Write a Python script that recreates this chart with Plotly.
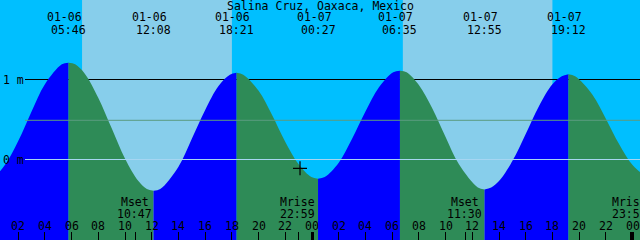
import plotly.graph_objects as go

TITLE = "Salina Cruz, Oaxaca, Mexico"

# hours since 01-06 00:00, tide height in metres
tide_t = [-0.45, 0.05, 1, 2, 3, 4, 5.267, 5.767,
          6.267, 7, 8, 9, 10, 11, 11.633, 12.133,
          12.633, 14, 15, 16, 17, 17.85, 18.35,
          18.85, 20, 21, 22, 23, 23.95, 24.45,
          24.95, 26, 27, 28, 29, 30.083, 30.583,
          31.083, 32, 33, 34, 35, 36.417, 36.917,
          37.417, 38, 39, 40, 41, 42, 42.7, 43.2,
          43.7, 45, 46, 47, 48, 48.78, 49.28]
tide_h = [-0.26, -0.24, -0.07, 0.23, 0.60, 0.94, 1.19, 1.21,
          1.19, 1.07, 0.77, 0.39, 0.01, -0.27, -0.37, -0.39,
          -0.37, -0.09, 0.26, 0.62, 0.92, 1.06, 1.085,
          1.06, 0.86, 0.56, 0.22, -0.06, -0.22, -0.24,
          -0.22, -0.04, 0.26, 0.60, 0.90, 1.09, 1.11,
          1.09, 0.93, 0.64, 0.28, -0.06, -0.35, -0.375,
          -0.35, -0.27, -0.02, 0.32, 0.67, 0.94, 1.04, 1.065,
          1.04, 0.81, 0.51, 0.19, -0.07, -0.18, -0.20]

# high / low tide events
event_t = [-0.45, 5.767, 12.133, 18.35, 24.45, 30.583, 36.917, 43.2, 49.28]
event_date = ["01-05", "01-06", "01-06", "01-06", "01-07", "01-07", "01-07", "01-07", "01-08"]
event_time = ["23:33", "05:46", "12:08", "18:21", "00:27", "06:35", "12:55", "19:12", "01:17"]

# daylight periods
sunrise_t = [6.78, 30.8]
sunset_t = [18.0, 42.0]

# moon events
moon_t = [10.783, 22.983, 35.5, 47.85]
moon_kind = ["Mset", "Mrise", "Mset", "Mrise"]
moon_time = ["10:47", "22:59", "11:30", "23:51"]

# hour labels along the bottom
hour_t = [2, 4, 6, 8, 10, 12, 14, 16, 18, 20, 22, 24, 26, 28, 30, 32, 34, 36, 38, 40, 42, 44, 46, 48]
hour_lbl = ["02", "04", "06", "08", "10", "12", "14", "16", "18", "20", "22", "00",
            "02", "04", "06", "08", "10", "12", "14", "16", "18", "20", "22", "00"]
midnight_t = [24, 48]

depth_vals = [1, 0]
depth_lbl = ["1 m", "0 m"]
msl_h = 0.49
now_t, now_h = 23.1, -0.11

NIGHT = "#00BFFF"
DAY = "#87CEEB"
FLOOD = "#0000FF"
EBB = "#2E8B57"
FONT = dict(family="DejaVu Sans Mono", size=11.5, color="black")

W, H = 640, 240
XR = [0.636, 48.558]
YR = [-1.00625, 1.99375]


def ypaper(px):
    return 1 - px / H


fig = go.Figure()

# tide curve segments between events
idx = [tide_t.index(t) for t in event_t]
for a, b in zip(idx[:-1], idx[1:]):
    xs = tide_t[a:b + 1]
    ys = tide_h[a:b + 1]
    col = FLOOD if ys[-1] > ys[0] else EBB
    fig.add_trace(go.Scatter(x=[xs[0], xs[-1]], y=[-1.5, -1.5], mode="lines",
                             line=dict(width=0), hoverinfo="skip", showlegend=False))
    fig.add_trace(go.Scatter(x=xs, y=ys, mode="lines", line=dict(width=0, shape="spline"),
                             fill="tonexty", fillcolor=col, hoverinfo="skip", showlegend=False))

# current-time mark
fig.add_trace(go.Scatter(x=[now_t], y=[now_h], mode="markers",
                         marker=dict(symbol="cross-thin", size=10, line=dict(width=1.2, color="black")),
                         showlegend=False, hoverinfo="skip"))
# dummy trace for the midnight tick axis
fig.add_trace(go.Scatter(x=midnight_t, y=[None, None], xaxis="x2", mode="markers",
                         showlegend=False, hoverinfo="skip"))

shapes = []
for sr, ss in zip(sunrise_t, sunset_t):
    shapes.append(dict(type="rect", xref="x", yref="paper", x0=sr, x1=ss, y0=0, y1=1,
                       fillcolor=DAY, line=dict(width=0), layer="below"))
# depth line under the curve
shapes.append(dict(type="line", xref="paper", yref="y", x0=25 / W, x1=1, y0=depth_vals[0], y1=depth_vals[0],
                   line=dict(color="black", width=1), layer="below"))
# datum and MSL lines over the curve
shapes.append(dict(type="line", xref="paper", yref="y", x0=25 / W, x1=1, y0=depth_vals[1], y1=depth_vals[1],
                   line=dict(color="#a6d6f2", width=1), layer="above"))
shapes.append(dict(type="line", xref="paper", yref="y", x0=25 / W, x1=1, y0=msl_h, y1=msl_h,
                   line=dict(color="#5a9c80", width=1), layer="above"))

ann = []
ann.append(dict(text=TITLE, xref="paper", yref="paper", x=0.5, y=ypaper(6), showarrow=False,
                xanchor="center", yanchor="middle", font=FONT))
for t, d, tm in zip(event_t, event_date, event_time):
    ann.append(dict(text=d, xref="x", yref="paper", x=t, y=ypaper(17.5), xshift=-4, showarrow=False,
                    xanchor="center", yanchor="middle", font=FONT))
    ann.append(dict(text=tm, xref="x", yref="paper", x=t, y=ypaper(29.5), showarrow=False,
                    xanchor="center", yanchor="middle", font=FONT))
for t, k, tm in zip(moon_t, moon_kind, moon_time):
    ann.append(dict(text=k, xref="x", yref="paper", x=t, y=ypaper(201.5), xshift=-1, showarrow=False,
                    xanchor="center", yanchor="middle", font=FONT))
    ann.append(dict(text=tm, xref="x", yref="paper", x=t, y=ypaper(213.5), xshift=-1, showarrow=False,
                    xanchor="center", yanchor="middle", font=FONT))
for t, l in zip(hour_t, hour_lbl):
    ann.append(dict(text=l, xref="x", yref="paper", x=t, y=ypaper(225.5), showarrow=False,
                    xanchor="center", yanchor="middle", font=FONT))
for v, l in zip(depth_vals, depth_lbl):
    ann.append(dict(text=l, xref="paper", yref="y", x=1 / W, y=v, showarrow=False,
                    xanchor="left", yanchor="middle", font=FONT))

fig.update_layout(
    width=W, height=H, autosize=False,
    margin=dict(l=0, r=0, t=0, b=0, pad=0),
    paper_bgcolor=NIGHT, plot_bgcolor=NIGHT,
    showlegend=False,
    shapes=shapes, annotations=ann,
    xaxis=dict(range=XR, showgrid=False, zeroline=False, showline=False,
               ticks="inside", tickvals=hour_t + moon_t, ticklen=8, tickwidth=1, tickcolor="black",
               showticklabels=False, fixedrange=True),
    xaxis2=dict(range=XR, overlaying="x", anchor="y", side="bottom", showgrid=False, zeroline=False,
                showline=False, ticks="inside", tickvals=midnight_t, ticklen=8, tickwidth=3,
                tickcolor="black", showticklabels=False, fixedrange=True),
    yaxis=dict(range=YR, showgrid=False, zeroline=False, showline=False, showticklabels=False,
               ticks="", fixedrange=True),
)

fig.write_html("out.html", config={"displayModeBar": False})
